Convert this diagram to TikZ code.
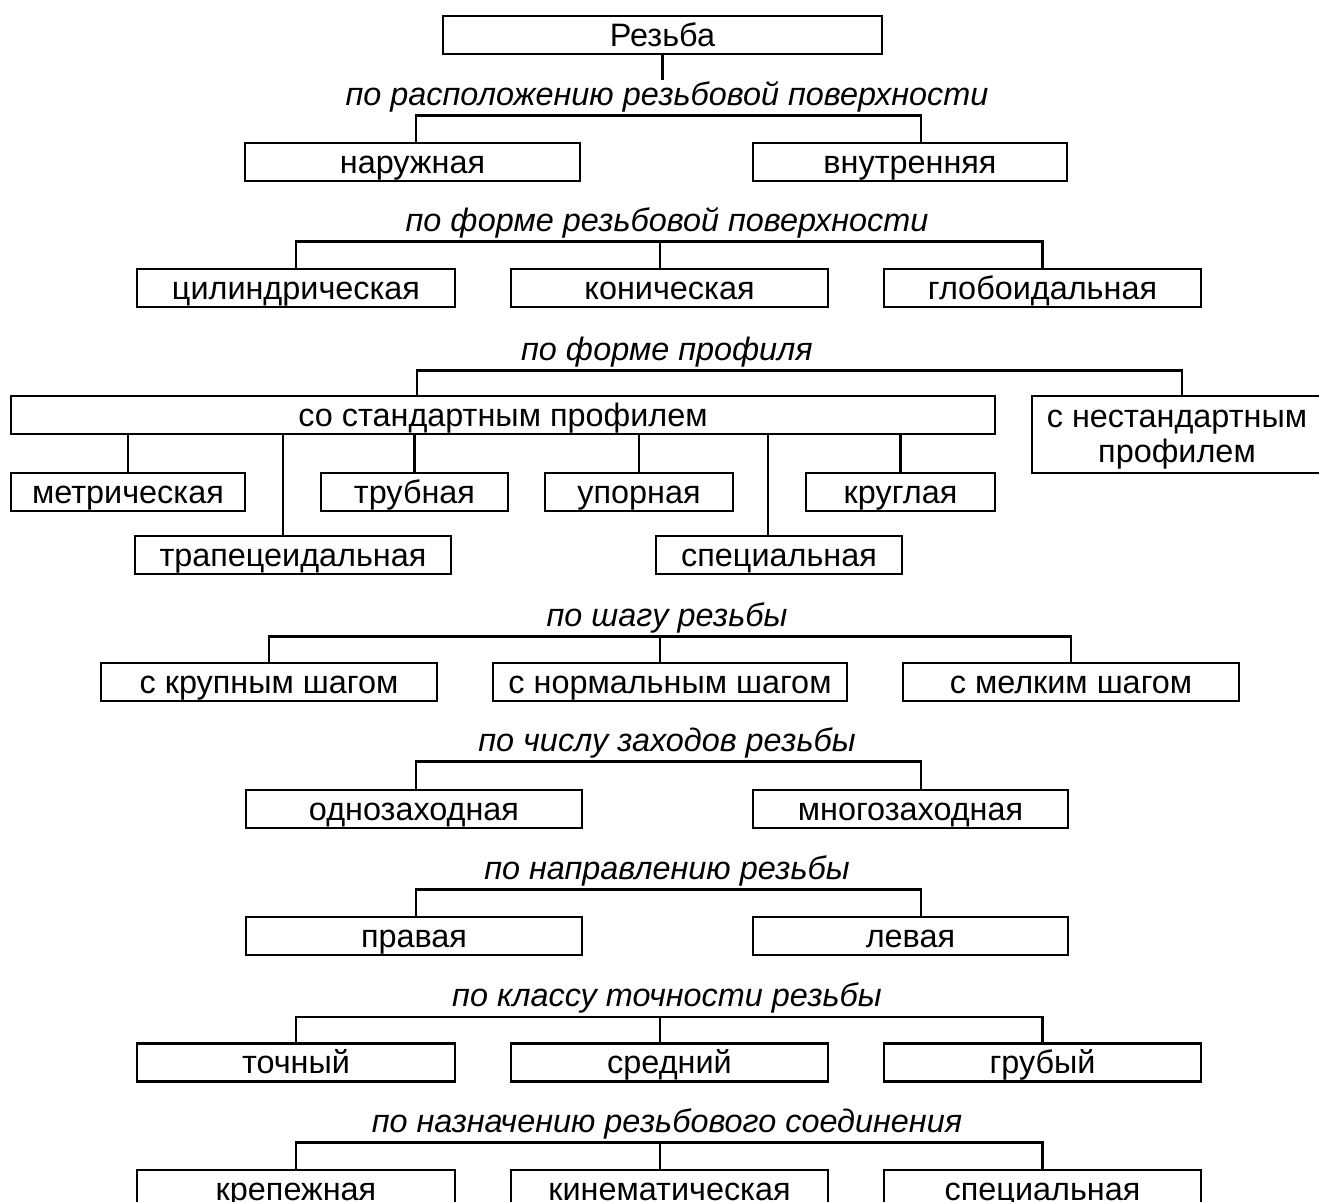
\documentclass[tikz,border=0pt]{standalone}
\usepackage{fontspec}
\setmainfont{Liberation Sans}
\tikzset{
    vid/.style={rectangle, draw=black, line width=1.3pt, inner sep=0pt,
                minimum height=19pt, text height=11.4pt, text depth=0pt,
                font=\fontsize{16.2}{17.5}\selectfont},
    priznak/.style={anchor=base, inner sep=0pt,
                font=\fontsize{16.2}{17.5}\selectfont\itshape},
    vetv/.style={line width=1.3pt}}

\begin{document}
\begin{tikzpicture}[x=0.5pt, y=-0.5pt]
    \useasboundingbox (0,0) rectangle (1319,1202);

    \node[vid, minimum width=219.5pt] (rezba) at (662.5,35) {Резьба};
    \draw[vetv] (rezba.south) -- ++(0,25);

    % по расположению
    \node[priznak] (raspol) at (667,106) {по расположению резьбовой поверхности};
    \node[vid, minimum width=167.5pt] (naruzh) at (412.5,162) {наружная};
    \node[vid, minimum width=157pt] (vnutr) at (910,162) {внутренняя};
    \draw[vetv] ([xshift=1.75pt]naruzh.north) -- ++(0,-26) -| ([xshift=5.5pt]vnutr.north);

    % по форме поверхности
    \node[priznak] (formapov) at (667,232) {по форме резьбовой поверхности};
    \node[vid, minimum width=159pt] (cilindr) at (296,288) {цилиндрическая};
    \node[vid, minimum width=158.5pt] (konich) at (669.5,288) {коническая};
    \node[vid, minimum width=158.5pt] (globoid) at (1042.5,288) {глобоидальная};
    \draw[vetv] (cilindr.north) -- ++(0,-26) -| (globoid.north);
    \draw[vetv] ([xshift=-4.75pt]konich.north) -- ++(0,-26);

    % по форме профиля
    \node[priznak] (formaprof) at (667,361) {по форме профиля};
    \node[vid, minimum width=492pt] (standart) at (503,415) {со стандартным профилем};
    \node[vid, minimum width=145pt, minimum height=38.5pt, align=center,
          text height=30.9pt, text depth=] (nestandart) at (1177,434.5)
        {с нестандартным\\профилем};
    \draw[vetv] ([xshift=-43pt]standart.north) -- ++(0,-24) -| ([xshift=2.5pt]nestandart.north);

    \node[vid, minimum width=117pt] (metrich) at (128,492) {метрическая};
    \node[vid, minimum width=93.5pt] (trubn) at (414.5,492) {трубная};
    \node[vid, minimum width=94pt] (upor) at (639,492) {упорная};
    \node[vid, minimum width=94.5pt] (krugl) at (900.5,492) {круглая};
    \node[vid, minimum width=158pt] (trapec) at (293,555) {трапецеидальная};
    \node[vid, minimum width=123pt] (specprof) at (779,555) {специальная};
    \draw[vetv] (metrich.north) -- (metrich.north |- standart.south);
    \draw[vetv] (trubn.north) -- (trubn.north |- standart.south);
    \draw[vetv] (upor.north) -- (upor.north |- standart.south);
    \draw[vetv] (krugl.north) -- (krugl.north |- standart.south);
    \draw[vetv] ([xshift=-5pt]trapec.north) -- ([xshift=-5pt]trapec.north |- standart.south);
    \draw[vetv] ([xshift=-5.5pt]specprof.north) -- ([xshift=-5.5pt]specprof.north |- standart.south);

    % по шагу
    \node[priznak] (shag) at (667,627) {по шагу резьбы};
    \node[vid, minimum width=168pt] (krupn) at (269,682) {с крупным шагом};
    \node[vid, minimum width=177pt] (normal) at (670,682) {с нормальным шагом};
    \node[vid, minimum width=168pt] (melk) at (1071,682) {с мелким шагом};
    \draw[vetv] (krupn.north) -- ++(0,-25) -| (melk.north);
    \draw[vetv] ([xshift=-5pt]normal.north) -- ++(0,-25);

    % по числу заходов
    \node[priznak] (zahod) at (667,752) {по числу заходов резьбы};
    \node[vid, minimum width=168pt] (odnozah) at (414,809) {однозаходная};
    \node[vid, minimum width=157.5pt] (mnogozah) at (910.5,809) {многозаходная};
    \draw[vetv] ([xshift=1pt]odnozah.north) -- ++(0,-27) -| ([xshift=5.25pt]mnogozah.north);

    % по направлению
    \node[priznak] (napravl) at (667,880) {по направлению резьбы};
    \node[vid, minimum width=168pt] (prav) at (414,936) {правая};
    \node[vid, minimum width=157.5pt] (lev) at (910.5,936) {левая};
    \draw[vetv] ([xshift=1pt]prav.north) -- ++(0,-26) -| ([xshift=5.25pt]lev.north);

    % по классу точности
    \node[priznak] (klass) at (667,1007) {по классу точности резьбы};
    \node[vid, minimum width=159pt] (tochn) at (296,1062.5) {точный};
    \node[vid, minimum width=158.5pt] (sredn) at (669.5,1062.5) {средний};
    \node[vid, minimum width=158.5pt] (grub) at (1042.5,1062.5) {грубый};
    \draw[vetv] (tochn.north) -- ++(0,-25) -| (grub.north);
    \draw[vetv] ([xshift=-4.75pt]sredn.north) -- ++(0,-25);

    % по назначению
    \node[priznak] (naznach) at (667,1133) {по назначению резьбового соединения};
    \node[vid, minimum width=159pt] (krepezh) at (296,1189) {крепежная};
    \node[vid, minimum width=158.5pt] (kinemat) at (669.5,1189) {кинематическая};
    \node[vid, minimum width=158.5pt] (specnazn) at (1042.5,1189) {специальная};
    \draw[vetv] (krepezh.north) -- ++(0,-26) -| (specnazn.north);
    \draw[vetv] ([xshift=-4.75pt]kinemat.north) -- ++(0,-26);
\end{tikzpicture}
\end{document}
